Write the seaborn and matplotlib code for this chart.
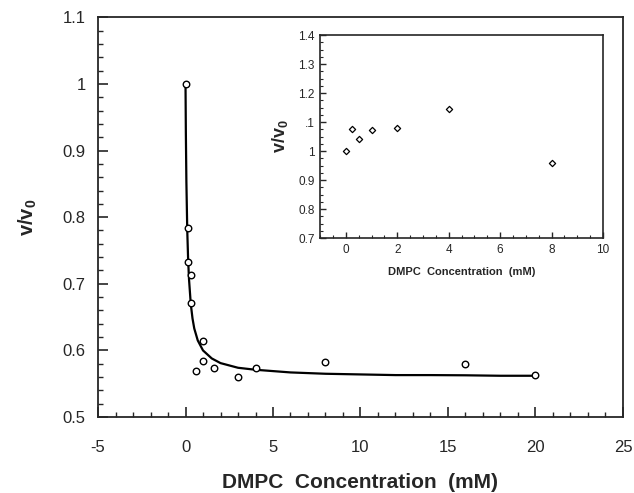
import seaborn as sns
import pandas as pd
import matplotlib.pyplot as plt
from matplotlib.ticker import MultipleLocator, FixedLocator, FixedFormatter

# main panel: measured points
conc_main = [0, 0.125, 0.15, 0.3, 0.3, 1.0, 1.0, 0.6, 1.6, 3.0, 4.0, 8.0, 16.0, 20.0]
ratio_main = [1.0, 0.783, 0.733, 0.713, 0.671, 0.614, 0.584, 0.569, 0.573, 0.560, 0.573, 0.583, 0.580, 0.563]

# fitted curve
fit_conc = [0, 0.02, 0.05, 0.1, 0.15, 0.2, 0.3, 0.4, 0.5, 0.7, 1, 1.5, 2, 3, 4, 6, 8, 10, 12, 14, 16, 18, 20]
fit_ratio = [1.0, 0.927, 0.853, 0.780, 0.736, 0.707, 0.670, 0.648, 0.633, 0.615, 0.600, 0.588, 0.581,
             0.574, 0.571, 0.567, 0.565, 0.564, 0.563, 0.563, 0.5627, 0.562, 0.562]

# inset points
conc_inset = [0, 0.25, 0.5, 1, 2, 4, 8]
ratio_inset = [1.0, 1.077, 1.04, 1.072, 1.08, 1.146, 0.96]
inset_yticks = [0.7, 0.8, 0.9, 1.0, 1.1, 1.2, 1.3, 1.4]
inset_ylabels = ["0.7", "0.8", "0.9", "1", ".1", "1.2", "1.3", "1.4"]

sns.set_style("ticks")
plt.rcParams['font.family'] = ['Liberation Sans', 'DejaVu Sans']
plt.rcParams['axes.unicode_minus'] = False
plt.rcParams['mathtext.fontset'] = 'custom'
plt.rcParams['mathtext.rm'] = 'Liberation Sans'
plt.rcParams['mathtext.bf'] = 'Liberation Sans:bold'
plt.rcParams['mathtext.it'] = 'Liberation Sans:italic'

df_main = pd.DataFrame({"conc": conc_main, "ratio": ratio_main})
df_fit = pd.DataFrame({"conc": fit_conc, "ratio": fit_ratio})
df_inset = pd.DataFrame({"conc": conc_inset, "ratio": ratio_inset})

fig = plt.figure(figsize=(6.34, 4.93), dpi=100)
ax = fig.add_axes([0.1546, 0.154, 0.828, 0.811])

sns.lineplot(data=df_fit, x="conc", y="ratio", ax=ax, color="black", linewidth=1.6, sort=False)
sns.scatterplot(data=df_main, x="conc", y="ratio", ax=ax, marker="o", s=22,
                facecolor="white", edgecolor="black", linewidth=1.0, zorder=3)

ax.set_xlim(-5, 25)
ax.set_ylim(0.5, 1.1)
ax.xaxis.set_major_locator(MultipleLocator(5))
ax.xaxis.set_minor_locator(MultipleLocator(1))
ax.yaxis.set_minor_locator(MultipleLocator(0.02))
ax.set_yticks([0.5, 0.6, 0.7, 0.8, 0.9, 1.0, 1.1])
ax.set_yticklabels(["0.5", "0.6", "0.7", "0.8", "0.9", "1", "1.1"])
ax.tick_params(which="major", direction="in", length=7, width=1.2, labelsize=12,
               top=False, right=False)
ax.tick_params(axis="x", which="major", pad=16.5)
ax.tick_params(axis="y", which="major", pad=9)
ax.tick_params(which="minor", direction="in", length=3.5, width=1.0, top=False, right=False)
for sp in ax.spines.values():
    sp.set_linewidth(1.3)
    sp.set_visible(True)
ax.set_xlabel("DMPC  Concentration  (mM)", fontsize=15, fontweight="bold", labelpad=13)
ax.set_ylabel(r"$\mathbf{v/v_0}$", fontsize=14.5, labelpad=17)

# inset
axi = fig.add_axes([0.505, 0.517, 0.446, 0.412])
sns.scatterplot(data=df_inset, x="conc", y="ratio", ax=axi, marker="D", s=10,
                facecolor="white", edgecolor="black", linewidth=0.9, zorder=3)
axi.set_xlim(-1, 10)
axi.set_ylim(0.7, 1.4)
axi.xaxis.set_major_locator(MultipleLocator(2))
axi.xaxis.set_minor_locator(MultipleLocator(0.5))
axi.yaxis.set_major_locator(FixedLocator(inset_yticks))
axi.yaxis.set_major_formatter(FixedFormatter(inset_ylabels))
axi.yaxis.set_minor_locator(MultipleLocator(0.025))
axi.tick_params(which="major", direction="in", length=4.5, width=1.0, labelsize=8.5, pad=4,
                top=False, right=False)
axi.tick_params(which="minor", direction="in", length=2.5, width=0.8, top=False, right=False)
for sp in axi.spines.values():
    sp.set_linewidth(1.2)
    sp.set_visible(True)
axi.set_xlabel("DMPC  Concentration  (mM)", fontsize=8, fontweight="bold", labelpad=8)
axi.set_ylabel(r"$\mathbf{v/v_0}$", fontsize=13, labelpad=6)

fig.savefig("out.png", dpi=100)
